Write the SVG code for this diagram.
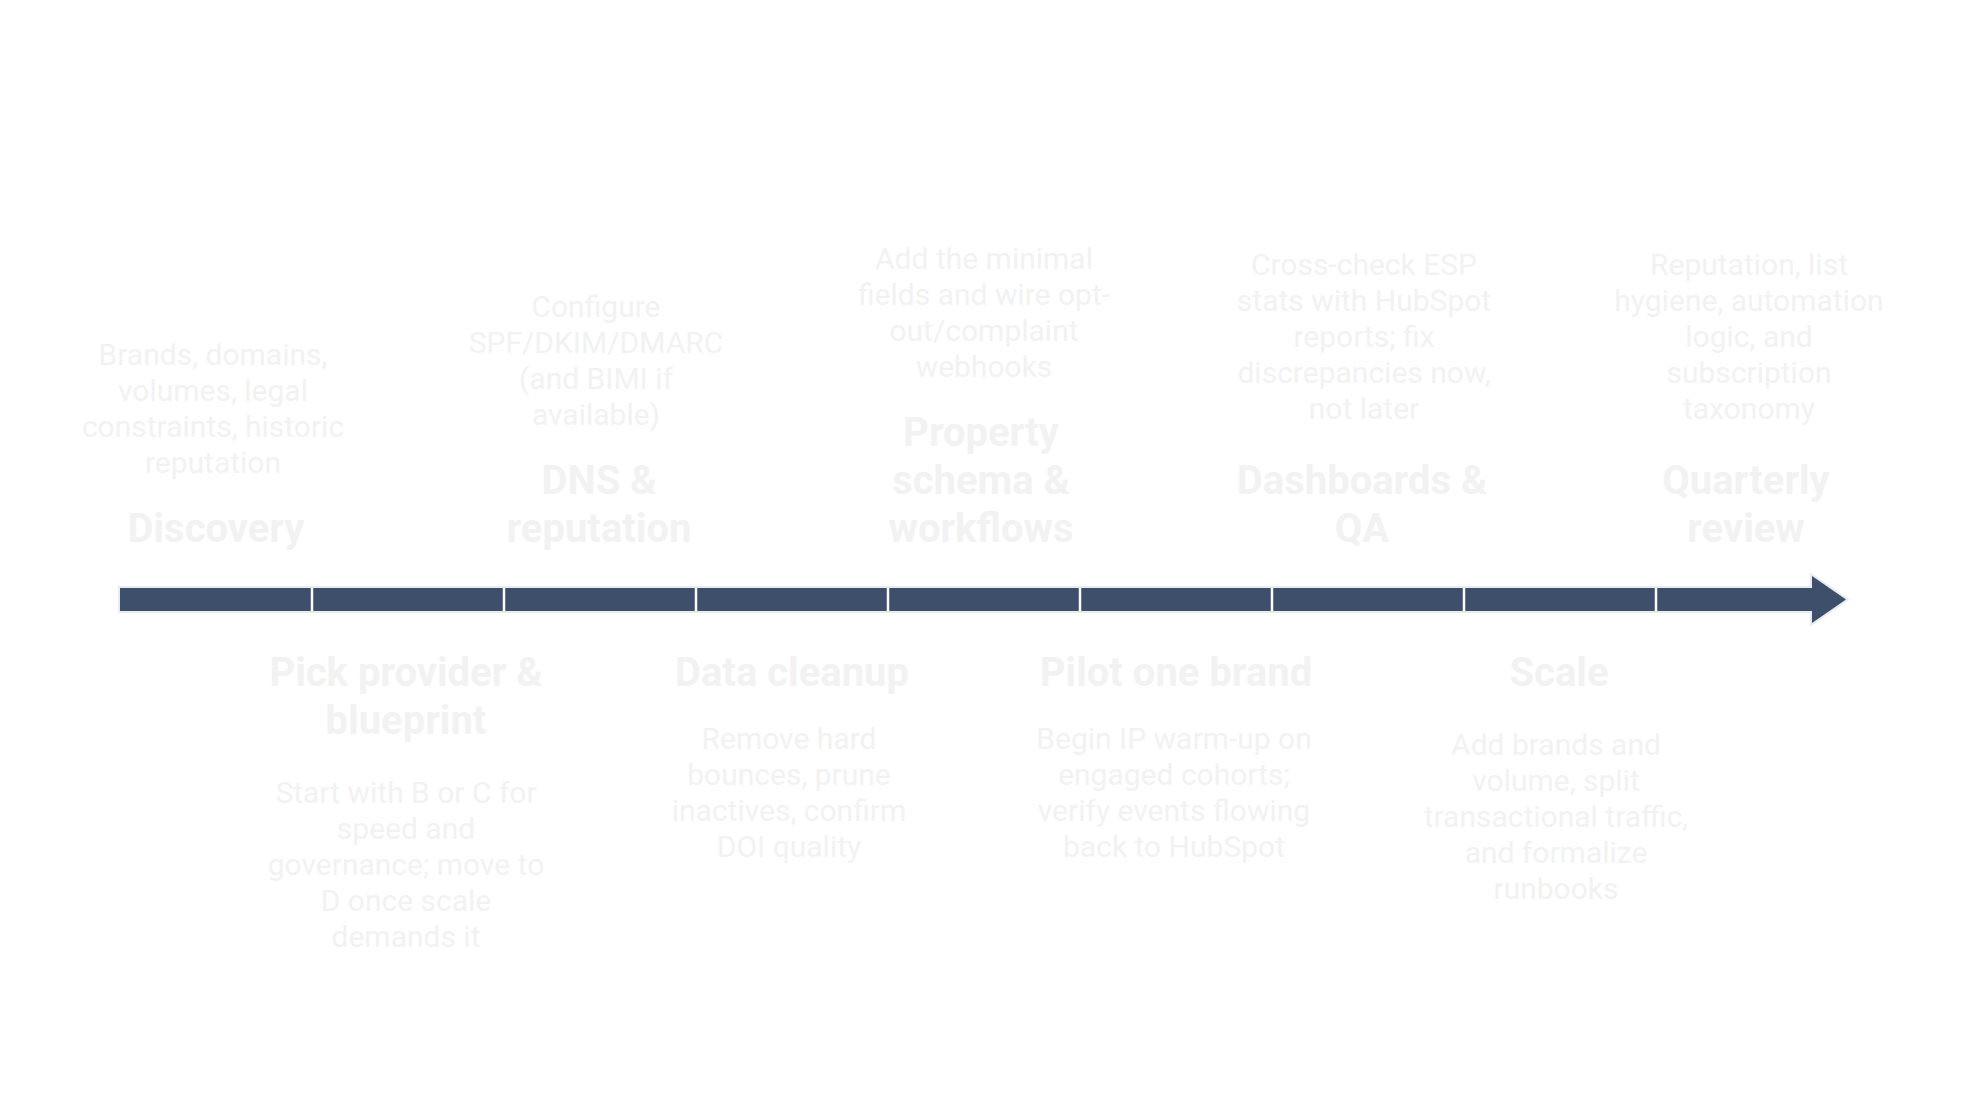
<svg xmlns="http://www.w3.org/2000/svg" width="1968" height="1104" viewBox="0 0 1968 1104">
<style>
.t{font-family:Roboto,"Liberation Sans",Arial,sans-serif;font-weight:700;font-size:40px;fill:#f2f2f2;text-anchor:middle}
.d{font-family:Roboto,"Liberation Sans",Arial,sans-serif;font-weight:400;font-size:30px;fill:#f2f2f2;text-anchor:middle}
.seg{fill:#3d4f6b}
.div{stroke:#ffffff;stroke-width:2.5}
</style>
<rect width="1968" height="1104" fill="#ffffff"/>
<g id="connectors">
<path d="M120,588 H1812 V576 L1846,599.5 L1812,623 V611 H120 Z" fill="none" stroke="#e9ebee" stroke-width="4" stroke-linejoin="miter"/>
<path class="seg" d="M120,588 H1812 V576 L1846,599.5 L1812,623 V611 H120 Z"/>
<g class="div">
<line x1="312" y1="588" x2="312" y2="611"/>
<line x1="504" y1="588" x2="504" y2="611"/>
<line x1="696" y1="588" x2="696" y2="611"/>
<line x1="888" y1="588" x2="888" y2="611"/>
<line x1="1080" y1="588" x2="1080" y2="611"/>
<line x1="1272" y1="588" x2="1272" y2="611"/>
<line x1="1464" y1="588" x2="1464" y2="611"/>
<line x1="1656" y1="588" x2="1656" y2="611"/>
</g>
</g>
<g id="discovery">
<text class="d" x="213" y="365">Brands, domains,</text>
<text class="d" x="213" y="401">volumes, legal</text>
<text class="d" x="213" y="437">constraints, historic</text>
<text class="d" x="213" y="473">reputation</text>
<text class="t" x="216" y="542">Discovery</text>
</g>
<g id="pick-provider">
<text class="t" x="406" y="686">Pick provider &amp;</text>
<text class="t" x="406" y="734">blueprint</text>
<text class="d" x="406" y="803">Start with B or C for</text>
<text class="d" x="406" y="839">speed and</text>
<text class="d" x="406" y="875">governance; move to</text>
<text class="d" x="406" y="911">D once scale</text>
<text class="d" x="406" y="947">demands it</text>
</g>
<g id="dns">
<text class="d" x="596" y="317">Configure</text>
<text class="d" x="596" y="353">SPF/DKIM/DMARC</text>
<text class="d" x="596" y="389">(and BIMI if</text>
<text class="d" x="596" y="425">available)</text>
<text class="t" x="599" y="494">DNS &amp;</text>
<text class="t" x="599" y="542">reputation</text>
</g>
<g id="data-cleanup">
<text class="t" x="792" y="686">Data cleanup</text>
<text class="d" x="789" y="749">Remove hard</text>
<text class="d" x="789" y="785">bounces, prune</text>
<text class="d" x="789" y="821">inactives, confirm</text>
<text class="d" x="789" y="857">DOI quality</text>
</g>
<g id="property-schema">
<text class="d" x="984" y="269">Add the minimal</text>
<text class="d" x="984" y="305">fields and wire opt-</text>
<text class="d" x="984" y="341">out/complaint</text>
<text class="d" x="984" y="377">webhooks</text>
<text class="t" x="981" y="446">Property</text>
<text class="t" x="981" y="494">schema &amp;</text>
<text class="t" x="981" y="542">workflows</text>
</g>
<g id="pilot">
<text class="t" x="1176" y="686">Pilot one brand</text>
<text class="d" x="1174" y="749">Begin IP warm-up on</text>
<text class="d" x="1174" y="785">engaged cohorts;</text>
<text class="d" x="1174" y="821">verify events flowing</text>
<text class="d" x="1174" y="857">back to HubSpot</text>
</g>
<g id="dashboards">
<text class="d" x="1364" y="275">Cross-check ESP</text>
<text class="d" x="1364" y="311">stats with HubSpot</text>
<text class="d" x="1364" y="347">reports; fix</text>
<text class="d" x="1364" y="383">discrepancies now,</text>
<text class="d" x="1364" y="419">not later</text>
<text class="t" x="1362" y="494">Dashboards &amp;</text>
<text class="t" x="1362" y="542">QA</text>
</g>
<g id="scale">
<text class="t" x="1559" y="686">Scale</text>
<text class="d" x="1556" y="755">Add brands and</text>
<text class="d" x="1556" y="791">volume, split</text>
<text class="d" x="1556" y="827">transactional traffic,</text>
<text class="d" x="1556" y="863">and formalize</text>
<text class="d" x="1556" y="899">runbooks</text>
</g>
<g id="quarterly-review">
<text class="d" x="1749" y="275">Reputation, list</text>
<text class="d" x="1749" y="311">hygiene, automation</text>
<text class="d" x="1749" y="347">logic, and</text>
<text class="d" x="1749" y="383">subscription</text>
<text class="d" x="1749" y="419">taxonomy</text>
<text class="t" x="1746" y="494">Quarterly</text>
<text class="t" x="1746" y="542">review</text>
</g>
</svg>
